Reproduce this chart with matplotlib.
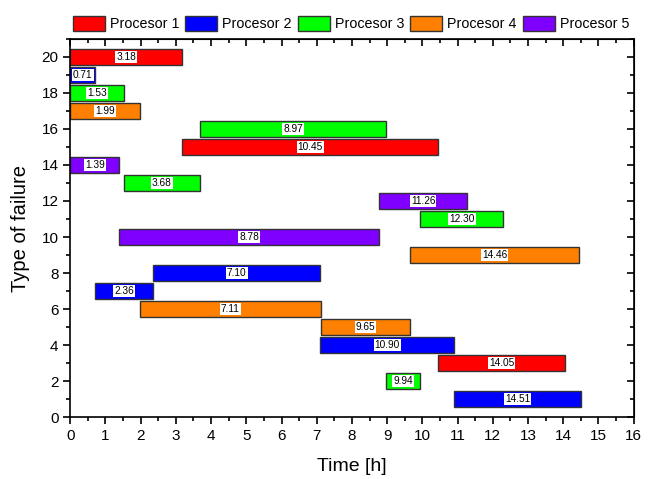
import matplotlib
matplotlib.use("Agg")
import matplotlib.pyplot as plt
from matplotlib.patches import Patch
from matplotlib.ticker import MultipleLocator

plt.rcParams['font.family'] = ['Liberation Sans', 'DejaVu Sans']

processors = ["Procesor 1", "Procesor 2", "Procesor 3", "Procesor 4", "Procesor 5"]
colors = ["#FF0000", "#0000FF", "#00FF00", "#FF8000", "#8000FF"]

failure_type = [20, 19, 18, 17, 16, 15, 14, 13, 12, 11, 10, 9, 8, 7, 6, 5, 4, 3, 2, 1]
start_time = [0.0, 0.0, 0.0, 0.0, 3.68, 3.18, 0.0, 1.53, 8.78, 9.94, 1.39, 9.65, 2.36, 0.71, 1.99, 7.11, 7.10, 10.45, 8.97, 10.90]
end_time = [3.18, 0.71, 1.53, 1.99, 8.97, 10.45, 1.39, 3.68, 11.26, 12.30, 8.78, 14.46, 7.10, 2.36, 7.11, 9.65, 10.90, 14.05, 9.94, 14.51]
processor_idx = [0, 1, 2, 3, 2, 0, 4, 2, 4, 2, 4, 3, 1, 1, 3, 3, 1, 0, 2, 1]

fig = plt.figure(figsize=(6.56, 4.79), dpi=100)
ax = fig.add_axes([0.107, 0.129, 0.859, 0.790])

for y, s, e, p in zip(failure_type, start_time, end_time, processor_idx):
    ax.barh(y, e - s, left=s, height=0.9, color=colors[p], edgecolor="#333333", linewidth=1.0)
    ax.text((s + e) / 2, y, f"{e:.2f}", ha="center", va="center", fontsize=7.3,
            bbox=dict(boxstyle="square,pad=0.1", facecolor="white", edgecolor="none"))

ax.set_xlim(0, 16)
ax.set_ylim(0, 21)
ax.xaxis.set_major_locator(MultipleLocator(1))
ax.xaxis.set_minor_locator(MultipleLocator(0.5))
ax.yaxis.set_major_locator(MultipleLocator(2))
ax.yaxis.set_minor_locator(MultipleLocator(1))
ax.tick_params(axis="both", which="major", labelsize=11, length=5, width=1.2, direction="out")
ax.tick_params(axis="both", which="minor", length=3, width=1.2, direction="out")
for sp in ax.spines.values():
    sp.set_linewidth(1.2)

# mirrored inward ticks on top and right
axt = ax.secondary_xaxis("top")
axt.xaxis.set_major_locator(MultipleLocator(1))
axt.xaxis.set_minor_locator(MultipleLocator(0.5))
axt.tick_params(which="major", direction="in", length=5, width=1.2, labeltop=False)
axt.tick_params(which="minor", direction="in", length=3, width=1.2)
axr = ax.secondary_yaxis("right")
axr.yaxis.set_major_locator(MultipleLocator(2))
axr.yaxis.set_minor_locator(MultipleLocator(1))
axr.tick_params(which="major", direction="in", length=5, width=1.2, labelright=False)
axr.tick_params(which="minor", direction="in", length=3, width=1.2)

ax.set_xlabel("Time [h]", fontsize=14, labelpad=11)
ax.set_ylabel("Type of failure", fontsize=14.5, labelpad=8)

handles = [Patch(facecolor=c, edgecolor="#333333", linewidth=1.0, label=l) for c, l in zip(colors, processors)]
fig.legend(handles=handles, loc="center", bbox_to_anchor=(0.535, 0.951), ncol=5, frameon=False,
           fontsize=10.3, handlelength=2.24, handleheight=1.25, handletextpad=0.35, columnspacing=0.42,
           borderaxespad=0, borderpad=0)

fig.savefig("out.png", dpi=100)
